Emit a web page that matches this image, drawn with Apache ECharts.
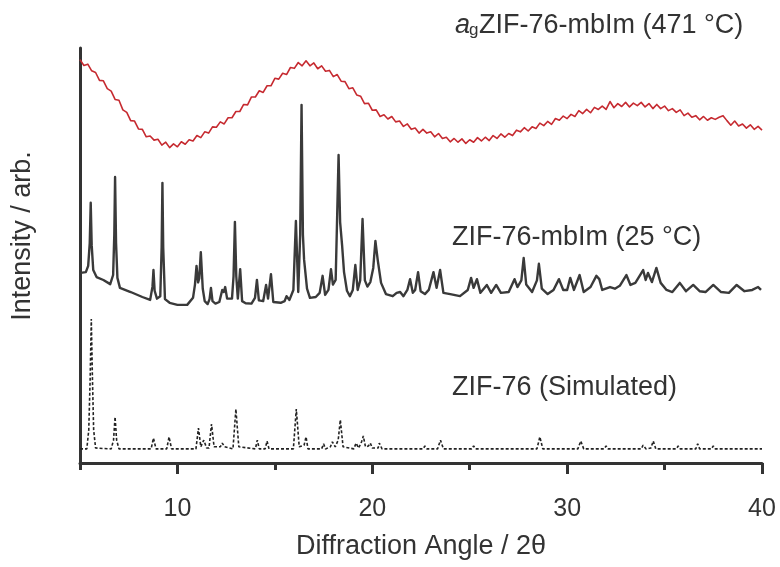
<!DOCTYPE html>
<html>
<head>
<meta charset="utf-8">
<script src="https://cdn.jsdelivr.net/npm/echarts@6/dist/echarts.min.js"></script>
<style>
html,body{margin:0;padding:0;background:#fff;}
#chart{width:780px;height:567px;}
</style>
</head>
<body>
<div id="chart"></div>
<script>
// ---------- data ----------
const xMin = 5, xMax = 40;
const majorTicks = [10, 20, 30, 40];
const minorTicks = [5, 15, 25, 35];

// amorphous glass (agZIF-76-mbIm, 471 °C) sampled every 0.2° from 5°
const glassStart = 5, glassStep = 0.2;
const glassValues = [
97.2,95.8,96.1,94.5,94.1,92.2,92.1,90.2,89.6,87.6,
87.4,85.1,84.5,82.5,82.4,80.5,80.4,78.6,78.8,77.8,
78.0,76.6,77.3,76.0,76.9,76.2,77.4,76.8,77.9,77.6,
78.9,78.4,79.8,79.5,81.0,80.9,82.2,81.7,83.2,83.2,
84.7,84.7,86.4,86.3,88.2,88.2,89.7,89.3,90.9,90.9,
92.7,92.5,93.9,93.6,95.3,95.1,96.5,95.7,96.9,95.7,
96.4,95.0,95.7,94.4,94.6,93.1,93.6,92.0,91.9,90.2,
90.4,88.7,88.4,86.6,86.7,85.0,85.1,83.5,83.9,82.9,
83.5,82.2,82.4,81.1,81.7,80.4,80.7,79.5,80.4,79.5,
79.8,78.6,79.4,78.2,78.5,77.4,78.2,77.3,78.1,77.0,
77.9,77.3,78.4,77.6,78.5,77.7,78.9,78.2,79.3,78.5,
79.4,78.9,80.2,79.8,80.8,80.0,81.0,80.6,81.9,81.3,
82.3,81.6,83.0,82.6,83.6,83.0,84.0,83.5,84.9,84.2,
85.2,84.4,85.7,85.2,86.0,85.2,87.1,85.6,86.6,85.9,
86.9,85.8,86.7,86.1,86.9,85.8,86.6,85.4,86.4,85.4,
86.0,84.9,85.4,84.5,85.1,83.7,84.3,83.3,83.7,82.7,
83.5,82.6,83.2,82.8,83.3,83.7,82.5,81.4,82.4,81.2,
81.7,80.7,81.5,80.4,81.1,80.2
];

// experimental ZIF-76-mbIm (25 °C): [2θ, intensity]
const expPattern = [
[5.03,45.8],[5.3,46.0],[5.42,47.5],[5.5,53.0],[5.55,62.7],[5.6,52.5],[5.68,46.5],[5.85,44.8],[6.2,44.1],[6.55,43.1],
[6.7,45.3],[6.76,55.0],[6.8,68.9],[6.85,53.0],[6.92,44.6],[7.05,42.2],[7.6,41.2],[8.2,40.0],[8.6,39.3],[8.72,42.5],
[8.77,46.5],[8.83,41.5],[8.95,39.6],[9.12,40.2],[9.19,52.0],[9.23,67.5],[9.27,52.0],[9.36,39.5],[9.6,38.6],[10.0,38.1],
[10.5,38.1],[10.8,39.8],[10.9,43.0],[10.98,47.5],[11.06,43.5],[11.12,44.5],[11.2,50.8],[11.3,42.0],[11.4,39.0],[11.55,38.3],
[11.65,39.5],[11.72,42.2],[11.8,39.0],[11.95,38.4],[12.15,38.8],[12.3,41.7],[12.38,41.2],[12.45,42.4],[12.55,39.6],[12.8,39.6],
[12.88,45.0],[12.95,58.1],[13.02,45.0],[13.1,39.6],[13.22,46.7],[13.32,39.0],[13.5,38.5],[13.8,38.4],[13.98,39.8],[14.08,44.1],
[14.18,39.2],[14.4,39.0],[14.55,42.9],[14.65,39.6],[14.8,45.5],[14.92,38.8],[15.3,38.6],[15.5,39.0],[15.6,40.2],[15.75,39.3],
[15.95,41.7],[16.08,58.3],[16.2,41.2],[16.3,55.0],[16.37,86.3],[16.44,55.0],[16.5,49.0],[16.56,49.4],[16.65,42.0],[16.8,39.8],
[17.1,40.0],[17.3,41.0],[17.45,45.1],[17.58,40.5],[17.75,41.7],[17.88,46.7],[17.98,43.0],[18.12,44.1],[18.2,60.0],[18.27,74.2],
[18.35,58.0],[18.45,52.5],[18.55,46.0],[18.7,41.5],[18.85,40.2],[19.0,41.7],[19.13,47.7],[19.25,41.7],[19.38,44.0],[19.5,58.8],
[19.62,44.0],[19.75,42.5],[19.9,43.6],[20.05,47.0],[20.16,53.5],[20.28,48.9],[20.45,43.4],[20.7,40.7],[21.05,40.2],[21.25,41.0],
[21.43,41.2],[21.6,40.2],[21.8,41.7],[21.94,44.3],[22.08,41.0],[22.2,41.7],[22.35,46.0],[22.48,41.4],[22.7,40.7],[22.9,41.7],
[23.14,46.0],[23.3,42.2],[23.48,46.5],[23.65,41.0],[24.0,40.7],[24.5,40.2],[24.9,41.7],[25.07,44.6],[25.2,42.2],[25.37,44.3],
[25.55,41.0],[25.88,42.9],[26.1,41.0],[26.36,42.9],[26.6,41.0],[27.0,41.2],[27.3,44.3],[27.45,42.4],[27.65,44.0],[27.77,49.4],
[27.9,43.0],[28.2,41.2],[28.45,44.0],[28.55,48.0],[28.7,42.0],[29.0,40.7],[29.3,41.7],[29.58,44.3],[29.8,41.7],[30.0,41.7],
[30.16,44.6],[30.35,41.7],[30.64,45.3],[30.85,41.2],[31.2,42.4],[31.5,45.1],[31.65,44.3],[31.8,41.7],[32.2,42.4],[32.45,42.0],
[32.7,42.7],[33.04,45.3],[33.25,42.9],[33.5,43.4],[33.9,46.5],[34.03,44.1],[34.15,45.8],[34.35,43.6],[34.58,47.0],[34.8,43.4],
[35.1,41.7],[35.4,41.2],[35.78,43.4],[36.1,41.4],[36.47,42.9],[36.8,41.4],[37.1,41.2],[37.5,42.9],[37.9,41.2],[38.3,41.0],
[38.7,42.9],[39.1,41.4],[39.5,41.7],[39.8,42.4],[39.95,41.7]
];

// simulated ZIF-76: [2θ, intensity]
const simPattern = [
[5.0,3.4],[5.35,3.4],[5.45,8.0],[5.52,20.0],[5.58,34.7],[5.64,20.0],[5.7,8.0],[5.8,3.6],[6.6,3.4],[6.72,5.5],
[6.8,11.1],[6.88,5.5],[7.0,3.4],[8.65,3.4],[8.77,6.0],[8.9,3.4],[9.45,3.4],[9.57,6.3],[9.7,3.4],[10.95,3.4],
[11.08,8.4],[11.2,3.9],[11.35,5.5],[11.5,3.6],[11.62,3.6],[11.75,9.4],[11.88,3.9],[12.2,3.9],[12.3,4.8],[12.42,3.9],
[12.85,3.4],[13.0,13.0],[13.15,3.9],[14.0,3.4],[14.1,5.5],[14.2,3.4],[14.5,3.4],[14.6,5.3],[14.7,3.4],[15.95,3.4],
[16.1,13.0],[16.25,3.9],[16.5,4.3],[16.6,6.3],[16.7,3.4],[17.4,3.4],[17.5,4.6],[17.6,3.4],[17.85,3.9],[17.95,5.1],
[18.1,3.9],[18.25,5.5],[18.36,10.4],[18.5,3.9],[19.05,3.4],[19.17,4.8],[19.3,3.6],[19.45,5.1],[19.54,6.5],[19.65,3.9],
[19.8,4.1],[19.9,4.8],[20.0,3.6],[20.3,3.6],[20.36,4.8],[20.5,3.4],[22.6,3.4],[22.7,4.1],[22.8,3.4],[23.35,3.4],
[23.5,5.5],[23.65,3.4],[25.1,3.4],[25.2,4.1],[25.3,3.4],[28.45,3.4],[28.6,6.3],[28.75,3.4],[30.55,3.4],[30.7,5.3],
[30.85,3.4],[31.9,3.4],[32.0,4.1],[32.1,3.4],[33.8,3.4],[33.9,4.3],[34.05,3.4],[34.3,3.6],[34.42,5.3],[34.55,3.4],
[35.6,3.4],[35.7,4.1],[35.8,3.4],[36.6,3.4],[36.7,4.6],[36.8,3.4],[37.4,3.4],[37.5,4.1],[37.6,3.4],[40.0,3.4]
];

const labelGlassA = 'a', labelGlassG = 'g', labelGlassRest = 'ZIF-76-mbIm (471 °C)';
const labelExp = 'ZIF-76-mbIm (25 °C)';
const labelSim = 'ZIF-76 (Simulated)';
const xTitle = 'Diffraction Angle / 2θ';
const yTitle = 'Intensity / arb.';

// ---------- chart ----------
const glassData = glassValues.map((v, i) => [+(glassStart + i * glassStep).toFixed(2), v]);

const FONT = "'Liberation Sans', Arial, Helvetica, sans-serif";
const TXT = '#333333';
const AX = '#333333';

const chart = echarts.init(document.getElementById('chart'), null, {renderer: 'canvas'});
chart.setOption({
  animation: false,
  backgroundColor: '#ffffff',
  grid: {left: 80, right: 18, top: 48, bottom: 104, containLabel: false},
  xAxis: [{
    type: 'value', min: xMin, max: xMax,
    axisLine: {show: true, onZero: false, lineStyle: {color: AX, width: 3}},
    axisTick: {show: true, inside: false, length: 11, customValues: majorTicks, lineStyle: {color: AX, width: 3}},
    axisLabel: {show: true, customValues: majorTicks, margin: 34, color: TXT, fontSize: 25, fontFamily: FONT},
    splitLine: {show: false},
    name: xTitle, nameLocation: 'middle', nameGap: 70,
    nameTextStyle: {color: TXT, fontSize: 27, fontFamily: FONT}
  }, {
    type: 'value', min: xMin, max: xMax, position: 'bottom',
    axisLine: {show: false},
    axisTick: {show: true, inside: false, length: 7, customValues: minorTicks, lineStyle: {color: AX, width: 3}},
    axisLabel: {show: false},
    splitLine: {show: false}
  }],
  yAxis: {
    type: 'value', min: 0, max: 100,
    axisLine: {show: true, onZero: false, lineStyle: {color: AX, width: 3}},
    axisTick: {show: false}, axisLabel: {show: false}, splitLine: {show: false}
  },
  series: [{
    type: 'line', name: 'sim', data: simPattern, showSymbol: false, symbol: 'none',
    lineStyle: {color: '#222222', width: 1.6, type: [3, 2]}, z: 2
  }, {
    type: 'line', name: 'exp', data: expPattern, showSymbol: false, symbol: 'none',
    lineStyle: {color: '#3a3a3a', width: 2.4, join: 'round'}, z: 3
  }, {
    type: 'line', name: 'glass', data: glassData, showSymbol: false, symbol: 'none',
    lineStyle: {color: '#c62a30', width: 1.6, join: 'round'}, z: 4
  }],
  graphic: [
    {type: 'text', x: 23, y: 236, rotation: Math.PI / 2,
     style: {text: yTitle, fill: TXT, font: "27px " + FONT, align: 'center', verticalAlign: 'middle'}},
    {type: 'text', left: 455, top: 12, style: {text: labelGlassA, fill: TXT, font: "italic 27px " + FONT}},
    {type: 'text', left: 469, top: 22, style: {text: labelGlassG, fill: TXT, font: "17px " + FONT}},
    {type: 'text', left: 479, top: 12, style: {text: labelGlassRest, fill: TXT, font: "27px " + FONT}},
    {type: 'text', left: 452, top: 224, style: {text: labelExp, fill: TXT, font: "27px " + FONT}},
    {type: 'text', left: 452, top: 374, style: {text: labelSim, fill: TXT, font: "27px " + FONT}}
  ]
});
</script>
</body>
</html>
